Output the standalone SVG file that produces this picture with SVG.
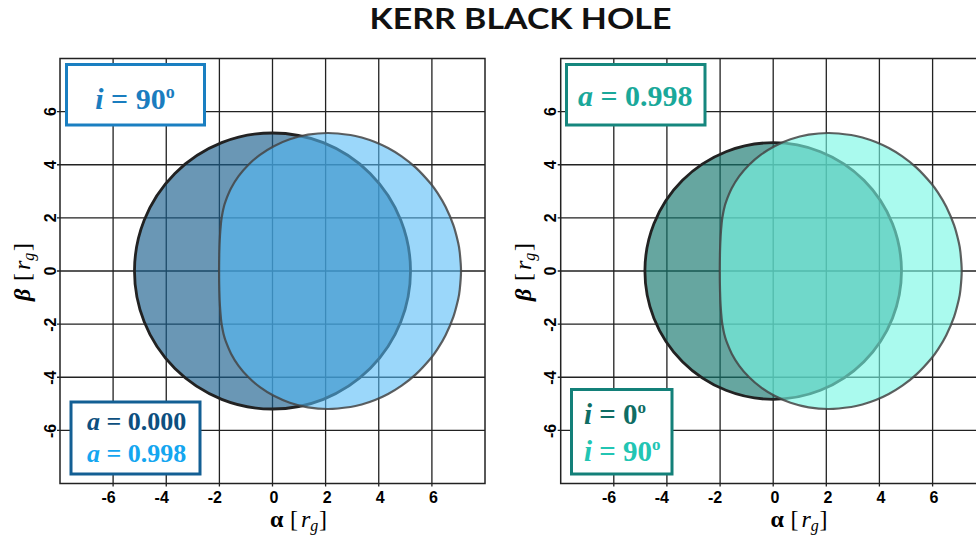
<svg xmlns="http://www.w3.org/2000/svg" xmlns:xlink="http://www.w3.org/1999/xlink" width="976" height="537" viewBox="0 0 976 537">
<style>
.grid{fill:none;stroke:#222;stroke-width:1.3}
.frame{fill:none;stroke:#222;stroke-width:1.5}
.tick{font-family:"Liberation Sans",Arial,sans-serif;font-weight:bold;font-size:16px;fill:#000}
.ax{font-family:"Liberation Serif",serif;font-size:24px;fill:#000}
.lg{font-family:"Liberation Serif",serif;font-weight:bold}
.box{fill:#fff;stroke-width:3}
.darkc{stroke:#222;stroke-width:2.8}
.lightc{stroke:#444;stroke-opacity:.85;stroke-width:2.2}
</style>
<defs>
<path id="kerr" vector-effect="non-scaling-stroke" d="M-2.111 0C-2.111 0.2437 -2.1075 0.5112 -2.102 0.731C-2.0965 0.9508 -2.0885 1.1395 -2.078 1.319C-2.0675 1.4985 -2.0507 1.6877 -2.039 1.808C-2.0273 1.9283 -2.0237 1.9492 -2.008 2.041C-1.9923 2.1328 -1.9683 2.2617 -1.945 2.359C-1.9217 2.4563 -1.9153 2.4995 -1.868 2.625C-1.8207 2.7505 -1.7428 2.9547 -1.661 3.112C-1.5792 3.2693 -1.4848 3.4223 -1.377 3.569C-1.2692 3.7157 -1.1482 3.858 -1.014 3.992C-0.8798 4.126 -0.7327 4.255 -0.572 4.373C-0.4113 4.491 -0.2373 4.6023 -0.05 4.7C0.1373 4.7977 0.338 4.887 0.552 4.959C0.766 5.031 0.9933 5.0925 1.234 5.132C1.4747 5.1715 1.7287 5.198 1.996 5.196C2.2633 5.194 2.6225 5.1502 2.838 5.12C3.0535 5.0898 3.1353 5.0592 3.289 5.015C3.4427 4.9708 3.5997 4.9195 3.76 4.855C3.9203 4.7905 4.084 4.7178 4.251 4.628C4.418 4.5382 4.5882 4.4387 4.762 4.316C4.9358 4.1933 5.1135 4.061 5.294 3.892C5.4745 3.723 5.706 3.4653 5.845 3.302C5.984 3.1387 6.0328 3.0595 6.128 2.912C6.2232 2.7645 6.3192 2.6147 6.416 2.417C6.5128 2.2193 6.6303 1.95 6.709 1.726C6.7877 1.502 6.8483 1.24 6.888 1.073C6.9277 0.906 6.9288 0.9028 6.947 0.724C6.9652 0.5452 6.997 0.2413 6.997 0C6.997 -0.2413 6.9652 -0.5452 6.947 -0.724C6.9288 -0.9028 6.9277 -0.906 6.888 -1.073C6.8483 -1.24 6.7877 -1.502 6.709 -1.726C6.6303 -1.95 6.5128 -2.2193 6.416 -2.417C6.3192 -2.6147 6.2232 -2.7645 6.128 -2.912C6.0328 -3.0595 5.984 -3.1387 5.845 -3.302C5.706 -3.4653 5.4745 -3.723 5.294 -3.892C5.1135 -4.061 4.9358 -4.1933 4.762 -4.316C4.5882 -4.4387 4.418 -4.5382 4.251 -4.628C4.084 -4.7178 3.9203 -4.7905 3.76 -4.855C3.5997 -4.9195 3.4427 -4.9708 3.289 -5.015C3.1353 -5.0592 3.0535 -5.0898 2.838 -5.12C2.6225 -5.1502 2.2633 -5.194 1.996 -5.196C1.7287 -5.198 1.4747 -5.1715 1.234 -5.132C0.9933 -5.0925 0.766 -5.031 0.552 -4.959C0.338 -4.887 0.1373 -4.7977 -0.05 -4.7C-0.2373 -4.6023 -0.4113 -4.491 -0.572 -4.373C-0.7327 -4.255 -0.8798 -4.126 -1.014 -3.992C-1.1482 -3.858 -1.2692 -3.7157 -1.377 -3.569C-1.4848 -3.4223 -1.5792 -3.2693 -1.661 -3.112C-1.7428 -2.9547 -1.8207 -2.7505 -1.868 -2.625C-1.9153 -2.4995 -1.9217 -2.4563 -1.945 -2.359C-1.9683 -2.2617 -1.9923 -2.1328 -2.008 -2.041C-2.0237 -1.9492 -2.0273 -1.9283 -2.039 -1.808C-2.0507 -1.6877 -2.0675 -1.4985 -2.078 -1.319C-2.0885 -1.1395 -2.0965 -0.9508 -2.102 -0.731C-2.1075 -0.5112 -2.111 -0.2437 -2.111 0Z"/>
</defs>
<rect width="976" height="537" fill="#fff"/>
<text x="520.5" y="29" text-anchor="middle" font-family="Lato,sans-serif" font-weight="bold" font-size="28" textLength="302" lengthAdjust="spacingAndGlyphs" fill="#111">KERR BLACK HOLE</text>

<g id="panel-left">
<path class="grid" d="M113.1 58.5V486.5M166.25 58.5V486.5M219.4 58.5V486.5M272.5 58.5V486.5M325.6 58.5V486.5M378.75 58.5V486.5M431.9 58.5V486.5M57 111.6H485M57 164.75H485M57 217.9H485M57 271H485M57 324.1H485M57 377.25H485M57 430.4H485"/>
<rect class="frame" x="60" y="58.5" width="425" height="425"/>
<g transform="translate(272.5 271) scale(26.5625 -26.5625)">
<circle class="darkc" cx="0" cy="0" r="5.196" fill="#1a5f8d" fill-opacity="0.65" vector-effect="non-scaling-stroke"/>
<use xlink:href="#kerr" class="lightc" transform="translate(0.1 0)" fill="#53baf6" fill-opacity="0.58"/>
</g>
<g class="tick" text-anchor="middle">
<text x="108.6" y="503">-6</text><text x="161.7" y="503">-4</text><text x="214.9" y="503">-2</text><text x="274" y="503">0</text><text x="327.1" y="503">2</text><text x="380.2" y="503">4</text><text x="433.4" y="503">6</text>
<text transform="translate(55.5 111.6) rotate(-90)">6</text>
<text transform="translate(55.5 164.75) rotate(-90)">4</text>
<text transform="translate(55.5 217.9) rotate(-90)">2</text>
<text transform="translate(55.5 271) rotate(-90)">0</text>
<text transform="translate(55.5 324.6) rotate(-90)">-2</text>
<text transform="translate(55.5 377.75) rotate(-90)">-4</text>
<text transform="translate(55.5 430.9) rotate(-90)">-6</text>
</g>
<text class="ax" y="527"><tspan x="270" font-weight="bold">α</tspan><tspan x="290">[</tspan><tspan x="301" font-style="italic">r</tspan><tspan font-style="italic" font-size="16" dy="4">g</tspan><tspan x="319" dy="-4">]</tspan></text>
<text class="ax" transform="translate(30 301) rotate(-90)"><tspan x="0" font-weight="bold" font-style="italic">β</tspan><tspan x="20">[</tspan><tspan x="31" font-style="italic">r</tspan><tspan font-style="italic" font-size="16" dy="4">g</tspan><tspan x="50" dy="-4">]</tspan></text>
</g>

<g id="legend-left-top">
<rect class="box" x="66.5" y="64.5" width="138" height="60.5" stroke="#1a7fc1"/>
<text class="lg" x="135" y="109" text-anchor="middle" font-size="30" fill="#1a7dbf"><tspan font-style="italic">i</tspan> = 90<tspan font-size="18" dy="-11">o</tspan></text>
</g>
<g id="legend-left-bottom">
<rect class="box" x="71" y="402" width="129" height="72" stroke="#135f94"/>
<text class="lg" x="87" y="430" font-size="26" fill="#0d4f80"><tspan font-style="italic">a</tspan> = 0.000</text>
<text class="lg" x="87" y="462" font-size="26" fill="#14a6f0"><tspan font-style="italic">a</tspan> = 0.998</text>
</g>

<g id="panel-right">
<path class="grid" d="M613.8 58.5V486.5M666.9 58.5V486.5M720.1 58.5V486.5M773.2 58.5V486.5M826.3 58.5V486.5M879.4 58.5V486.5M932.6 58.5V486.5M557.7 111.6H986M557.7 164.75H986M557.7 217.9H986M557.7 271H986M557.7 324.1H986M557.7 377.25H986M557.7 430.4H986"/>
<rect class="frame" x="560.7" y="58.5" width="425" height="425"/>
<g transform="translate(773.2 271) scale(26.5625 -26.5625)">
<circle class="darkc" cx="0" cy="0" r="4.83" fill="#14766d" fill-opacity="0.65" vector-effect="non-scaling-stroke"/>
<use xlink:href="#kerr" class="lightc" transform="translate(0.1 0)" fill="#76f7e4" fill-opacity="0.62"/>
</g>
<g class="tick" text-anchor="middle">
<text x="609" y="503">-6</text><text x="661.9" y="503">-4</text><text x="715" y="503">-2</text><text x="775" y="503">0</text><text x="828" y="503">2</text><text x="881" y="503">4</text><text x="934" y="503">6</text>
<text transform="translate(556.2 111.6) rotate(-90)">6</text>
<text transform="translate(556.2 164.75) rotate(-90)">4</text>
<text transform="translate(556.2 217.9) rotate(-90)">2</text>
<text transform="translate(556.2 271) rotate(-90)">0</text>
<text transform="translate(556.2 324.6) rotate(-90)">-2</text>
<text transform="translate(556.2 377.75) rotate(-90)">-4</text>
<text transform="translate(556.2 430.9) rotate(-90)">-6</text>
</g>
<text class="ax" y="527"><tspan x="770.5" font-weight="bold">α</tspan><tspan x="790.5">[</tspan><tspan x="801.5" font-style="italic">r</tspan><tspan font-style="italic" font-size="16" dy="4">g</tspan><tspan x="819.5" dy="-4">]</tspan></text>
<text class="ax" transform="translate(530.7 301) rotate(-90)"><tspan x="0" font-weight="bold" font-style="italic">β</tspan><tspan x="20">[</tspan><tspan x="31" font-style="italic">r</tspan><tspan font-style="italic" font-size="16" dy="4">g</tspan><tspan x="50" dy="-4">]</tspan></text>
</g>

<g id="legend-right-top">
<rect class="box" x="566.5" y="64.5" width="138.5" height="60.5" stroke="#16877e"/>
<text class="lg" x="578" y="105.5" font-size="30" fill="#1aa89a"><tspan font-style="italic">a</tspan> = 0.998</text>
</g>
<g id="legend-right-bottom">
<rect class="box" x="571.5" y="389.5" width="100.5" height="84.5" stroke="#138079"/>
<text class="lg" x="584" y="424" font-size="29" fill="#0f6d64"><tspan font-style="italic">i</tspan> = 0<tspan font-size="17" dy="-11">o</tspan></text>
<text class="lg" x="584" y="461" font-size="29" fill="#22c5b3"><tspan font-style="italic">i</tspan> = 90<tspan font-size="17" dy="-11">o</tspan></text>
</g>
</svg>
